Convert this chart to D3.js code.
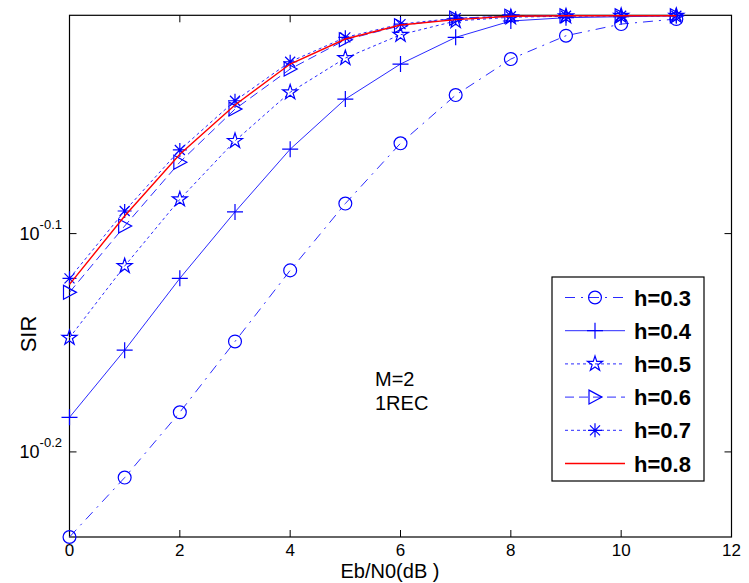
<!DOCTYPE html>
<html><head><meta charset="utf-8">
<script src="https://cdn.jsdelivr.net/npm/d3@7"></script>
<style>body{margin:0;background:#fff}svg{display:block}text{font-family:"Liberation Sans",Arial,sans-serif}</style>
</head><body><svg id="c" width="749" height="583"></svg>
<script>
const xs = [0,1,2,3,4,5,6,7,8,9,10,11];
const h03 = [0.5768,0.6141,0.6579,0.7089,0.7641,0.8199,0.8737,0.9193,0.9549,0.9787,0.9908,0.9961];
const h04 = [0.6544,0.7024,0.7577,0.8127,0.8683,0.9154,0.9499,0.9770,0.9940,0.9975,0.9985,0.9995];
const h05 = [0.7117,0.7676,0.8236,0.8759,0.9220,0.9559,0.9797,0.9940,0.9980,0.9990,0.9995,0.9995];
const h06 = [0.7466,0.8007,0.8565,0.9058,0.9449,0.9745,0.9891,0.9970,0.9990,0.9995,0.9995,0.9995];
const h07 = [0.7577,0.8135,0.8676,0.9138,0.9522,0.9770,0.9908,0.9970,0.9990,0.9995,0.9995,0.9995];
const h08 = [0.7529,0.8092,0.8637,0.9097,0.9499,0.9753,0.9898,0.9954,0.9990,0.9995,0.9995,0.9995];
const seriesNames = ["h=0.3","h=0.4","h=0.5","h=0.6","h=0.7","h=0.8"];
const xTicks = [0,2,4,6,8,10,12];
const yTickExps = ["-0.1","-0.2"];
const xLabel = "Eb/N0(dB )";
const yLabel = "SIR";
const annot = ["M=2","1REC"];

const series = [
  {name:seriesNames[0], v:h03, color:"#2a2aff", dash:"10,6,2,6", marker:"circle"},
  {name:seriesNames[1], v:h04, color:"#2a2aff", dash:null, marker:"plus"},
  {name:seriesNames[2], v:h05, color:"#2a2aff", dash:"3,3", marker:"star"},
  {name:seriesNames[3], v:h06, color:"#2a2aff", dash:"9,5", marker:"tri"},
  {name:seriesNames[4], v:h07, color:"#2a2aff", dash:"3,3", marker:"aster"},
  {name:seriesNames[5], v:h08, color:"#ff0000", dash:null, marker:null}
];

const svg = d3.select("#c");
const L=69.5, R=731.5, T=15.3, B=537;
const x = d3.scaleLinear().domain([0,12]).range([L,R]);
const y = d3.scaleLog().domain([0.5768,1]).range([B,T]);

function markerPath(type){
  switch(type){
    case "circle": return d3.symbol(d3.symbolCircle,130)();
    case "plus": return "M-8,0H8M0,-8V8";
    case "star": return d3.symbol(d3.symbolStar,70)();
    case "tri": return "M-6,-7L7,0L-6,7Z";
    case "aster": return "M-7,0H7M0,-7V7M-5,-5L5,5M-5,5L5,-5";
  }
  return null;
}

// frame
svg.append("rect").attr("x",L).attr("y",T).attr("width",R-L).attr("height",B-T)
  .attr("fill","none").attr("stroke","#000").attr("stroke-width",1.2);

// x ticks (inward, bottom and top)
const xa = svg.append("g");
xTicks.forEach(t=>{
  xa.append("line").attr("x1",x(t)).attr("x2",x(t)).attr("y1",B).attr("y2",B-7).attr("stroke","#000");
  xa.append("line").attr("x1",x(t)).attr("x2",x(t)).attr("y1",T).attr("y2",T+7).attr("stroke","#000");
  xa.append("text").attr("x",x(t)).attr("y",556).attr("text-anchor","middle")
    .attr("font-size",17).text(t);
});
// y ticks
yTickExps.forEach(e=>{
  const v = Math.pow(10,+e);
  const yy = y(v);
  svg.append("line").attr("x1",L).attr("x2",L+7).attr("y1",yy).attr("y2",yy).attr("stroke","#000");
  svg.append("line").attr("x1",R).attr("x2",R-7).attr("y1",yy).attr("y2",yy).attr("stroke","#000");
  const tx = svg.append("text").attr("x",62).attr("y",yy+6).attr("text-anchor","end").attr("font-size",18);
  tx.append("tspan").text("10");
  tx.append("tspan").attr("dy",-11).attr("font-size",13).text(e);
});

// axis labels
svg.append("text").attr("x",390).attr("y",578).attr("text-anchor","middle").attr("font-size",20).text(xLabel);
svg.append("text").attr("transform","translate(36,334) rotate(-90)").attr("text-anchor","middle").attr("font-size",22).text(yLabel);

// annotation
annot.forEach((t,i)=>svg.append("text").attr("x",375).attr("y",386+i*24).attr("font-size",20).text(t));

// lines
const line = d3.line().x((d,i)=>x(xs[i])).y(d=>y(d));
const plot = svg.append("g");
series.forEach(s=>{
  plot.append("path").attr("d",line(s.v)).attr("fill","none").attr("stroke",s.color)
    .attr("stroke-width",s.marker?1:1.4).attr("stroke-dasharray",s.dash);
  if(s.marker){
    plot.selectAll(null).data(s.v).enter().append("path")
      .attr("transform",(d,i)=>`translate(${x(xs[i])},${y(d)})`)
      .attr("d",markerPath(s.marker)).attr("fill","none").attr("stroke","#0000ff").attr("stroke-width",1.2);
  }
});

// legend
const lg = svg.append("g");
lg.append("rect").attr("x",552).attr("y",277).attr("width",152).attr("height",204)
  .attr("fill","#fff").attr("stroke","#000").attr("stroke-width",1.2);
series.forEach((s,i)=>{
  const yy = 297.5 + i*33.2;
  lg.append("line").attr("x1",565).attr("x2",625).attr("y1",yy).attr("y2",yy)
    .attr("stroke",s.color).attr("stroke-width",s.marker?1:1.4).attr("stroke-dasharray",s.dash);
  if(s.marker) lg.append("path").attr("transform",`translate(595,${yy})`).attr("d",markerPath(s.marker))
    .attr("fill","none").attr("stroke","#0000ff").attr("stroke-width",1.2);
  lg.append("text").attr("x",634).attr("y",yy+8).attr("font-size",22).attr("font-weight","bold").text(s.name);
});
</script></body></html>
